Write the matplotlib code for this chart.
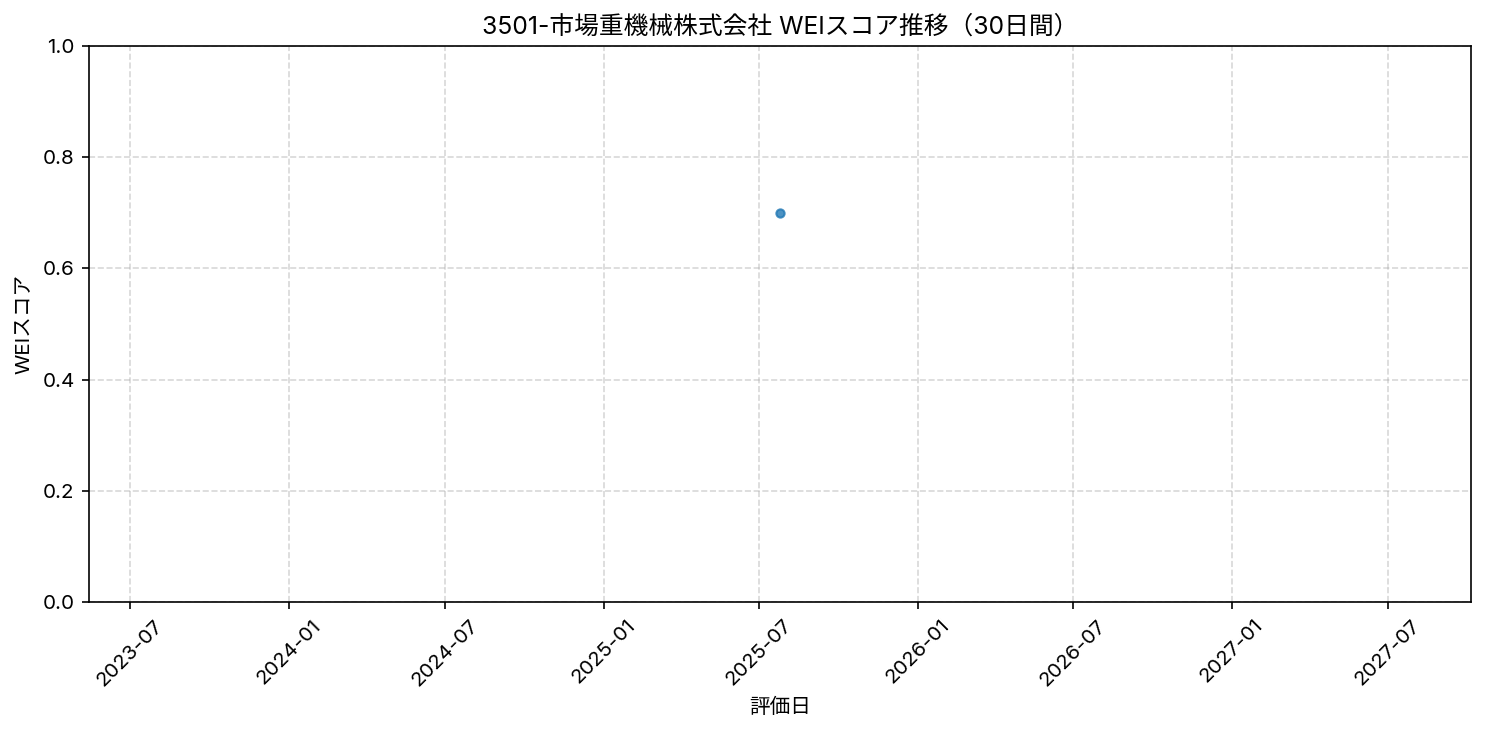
import pandas as pd
import matplotlib.pyplot as plt

plt.rcParams['font.family'] = ['Inter', 'Noto Sans CJK JP', 'DejaVu Sans']

# data
eval_dates = pd.to_datetime(['2025-07-25'])
wei_scores = [0.70]

title = '3501-市場重機械株式会社 WEIスコア推移（30日間）'


def plot_wei(dates, scores):
    fig, ax = plt.subplots(figsize=(10, 4.95), dpi=148.5)
    ax.plot(dates, scores, marker='o', markersize=4, linestyle='-', alpha=0.8)
    ax.set_ylim(0, 1)
    ax.set_title(title)
    ax.set_xlabel('評価日')
    ax.set_ylabel('WEIスコア')
    ax.grid(True, linestyle='--', alpha=0.5)
    plt.xticks(rotation=45)
    fig.subplots_adjust(left=0.06, right=0.9906, top=0.9374, bottom=0.181)
    fig.savefig('out.png')
    plt.close(fig)


if __name__ == '__main__':
    plot_wei(eval_dates, wei_scores)
